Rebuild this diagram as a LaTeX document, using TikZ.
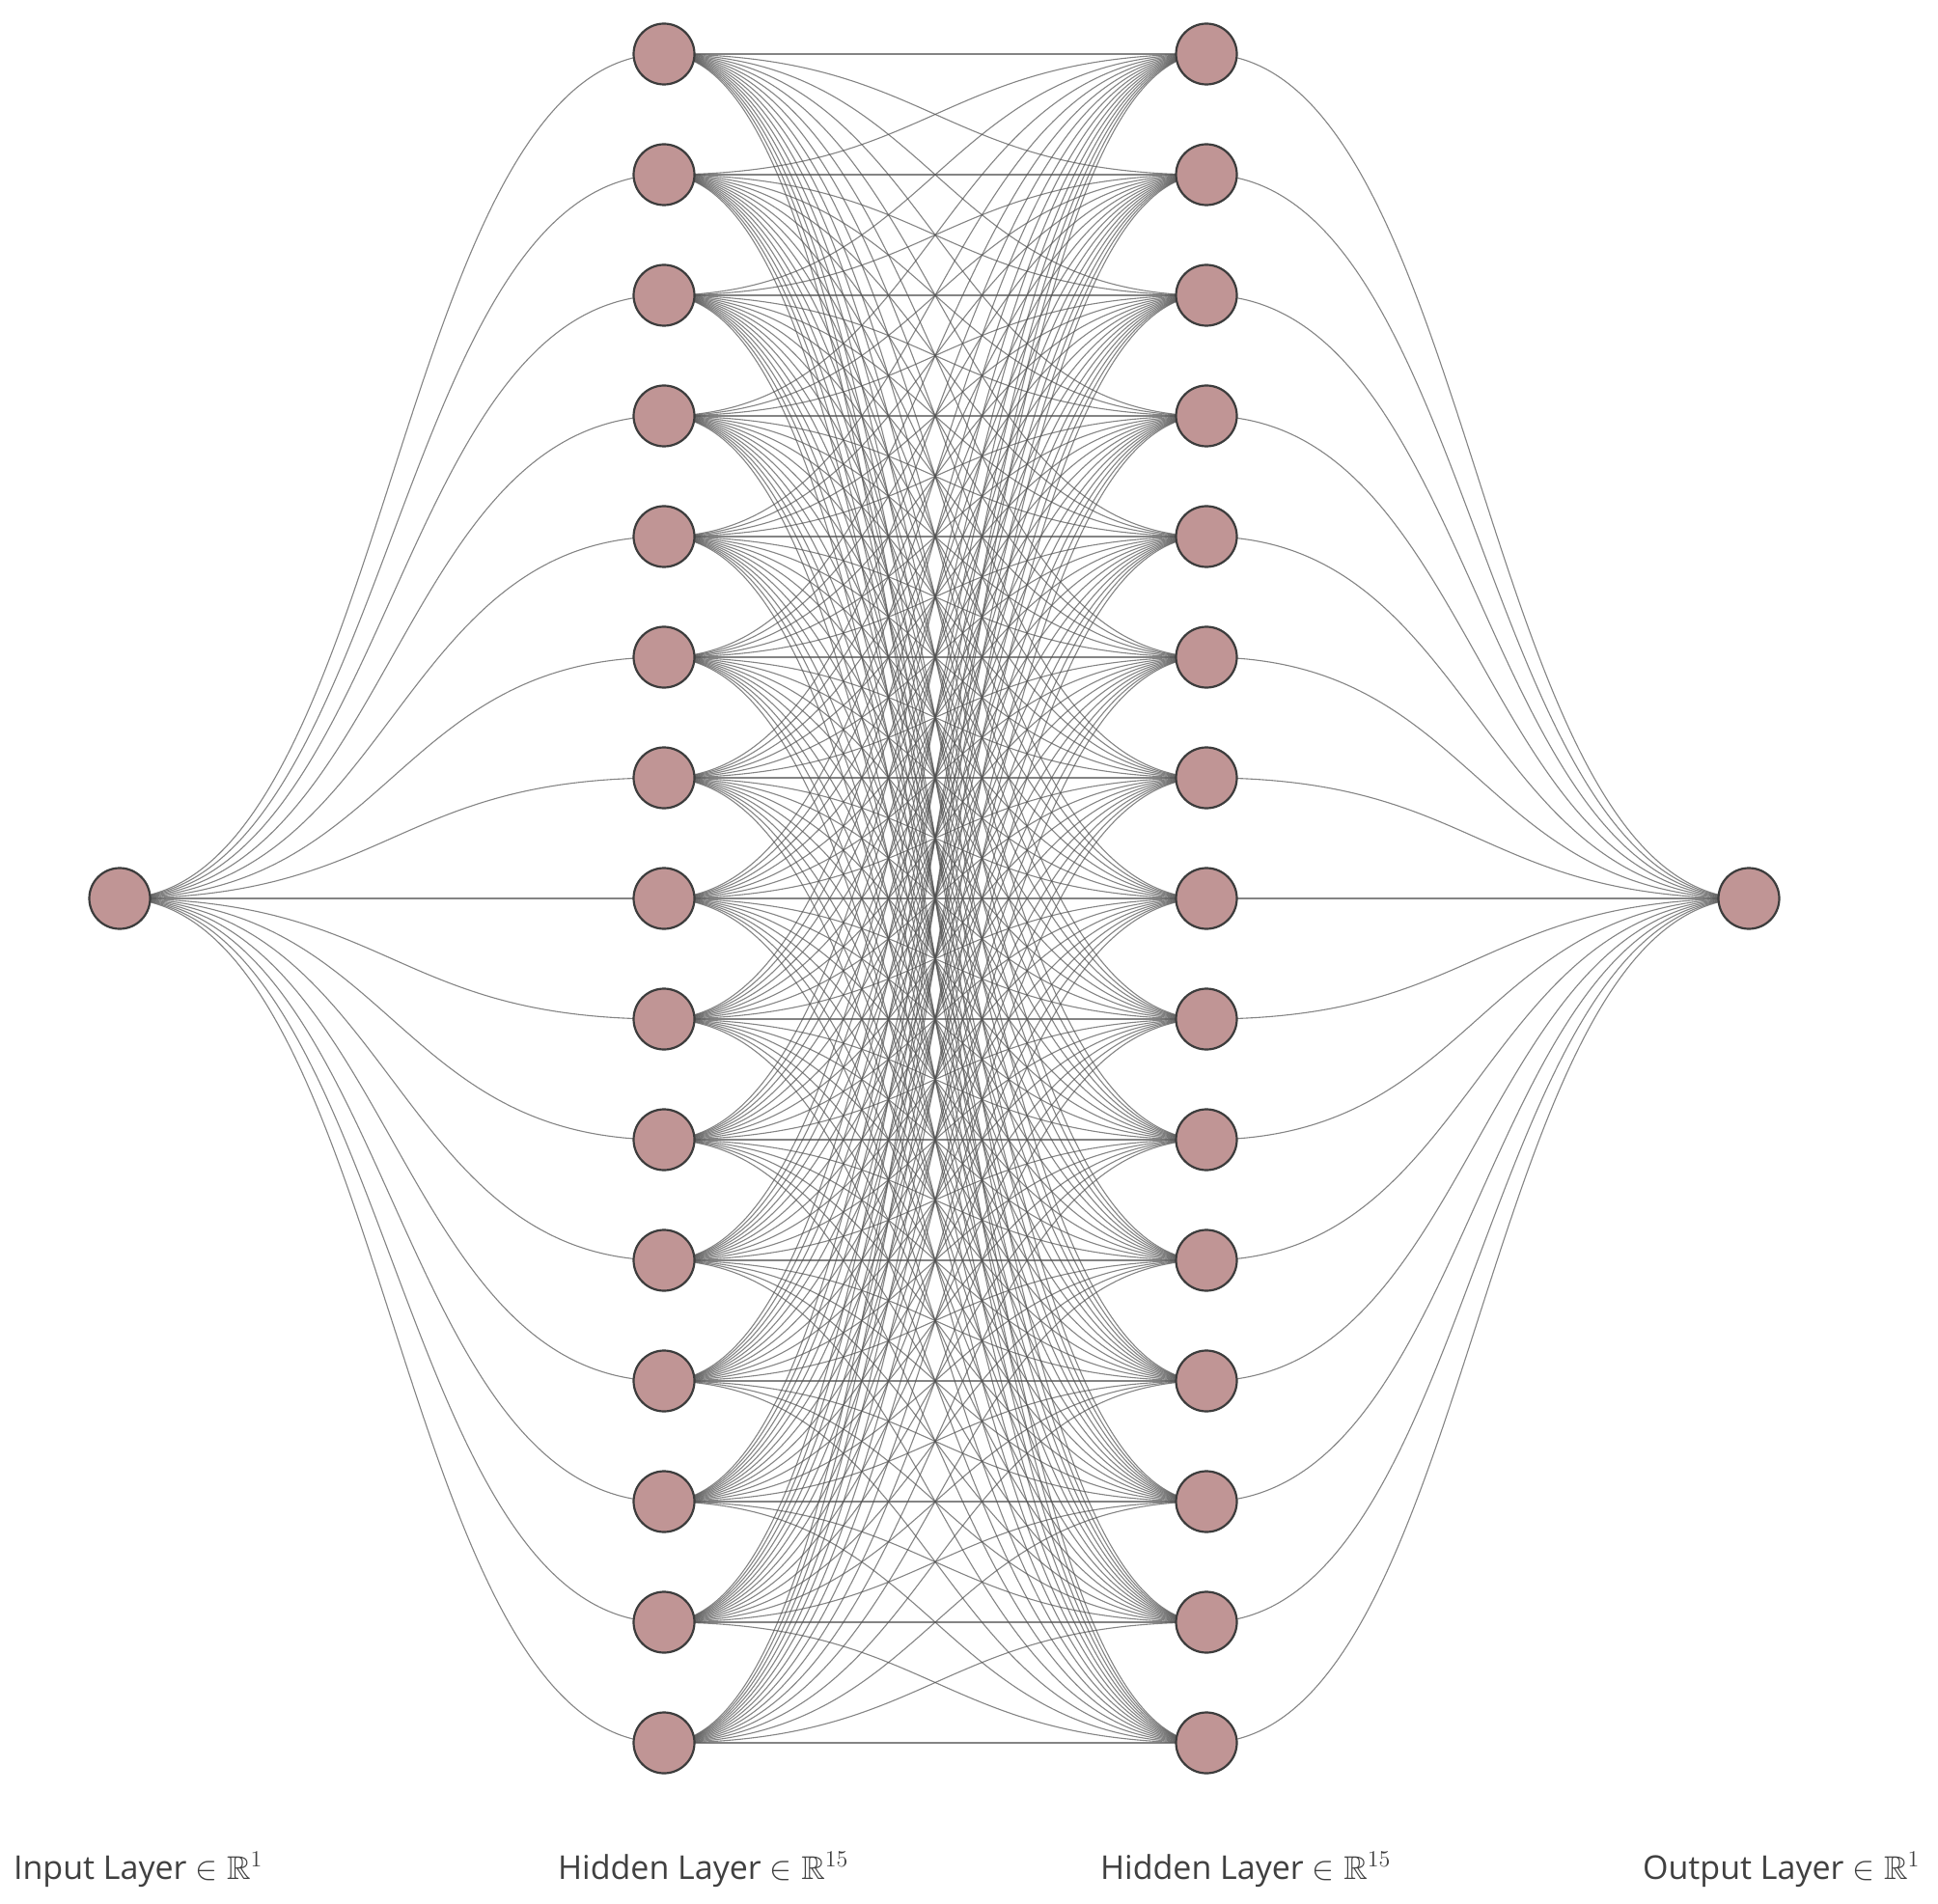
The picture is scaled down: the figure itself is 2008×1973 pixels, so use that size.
\documentclass[tikz,border=0pt]{standalone}
\usepackage{amssymb}
\usepackage{fontspec}
\setmainfont{Open Sans}
\usetikzlibrary{calc}
\definecolor{rosy}{RGB}{192, 149, 149}
\definecolor{wiregray}{RGB}{80, 80, 80}
\definecolor{rimgray}{RGB}{60, 60, 60}
\pgfdeclarelayer{wires}
\pgfsetlayers{wires,main}

\begin{document}
\begin{tikzpicture}[x=0.5pt,y=-0.5pt,
    neuron/.style={circle, draw=rimgray, fill=rosy, line width=1.1pt, minimum size=31.5pt, inner sep=0pt},
    synapse/.style={draw=wiregray, opacity=0.7, line width=0.55pt},
    layerlabel/.style={anchor=base west, font=\fontsize{17}{20}\selectfont, text=black!75}]
    \useasboundingbox (0,0) rectangle (2008,1973);
    % neurons
    \node[neuron] (in)  at ( 124, 931) {};
    \node[neuron] (out) at (1812, 931) {};
    \foreach \i in {1,...,15}{
        \node[neuron] (ha\i) at ( 688,{56+125*(\i-1)}) {};
        \node[neuron] (hb\i) at (1250,{56+125*(\i-1)}) {};
    }
    % connections
    \begin{pgfonlayer}{wires}
        \foreach \i in {1,...,15}{
            \draw[synapse] (in.center) .. controls ($(in.center)+(282,0)$) and ($(ha\i.center)-(282,0)$) .. (ha\i.center);
            \draw[synapse] (hb\i.center) .. controls ($(hb\i.center)+(281,0)$) and ($(out.center)-(281,0)$) .. (out.center);
            \foreach \j in {1,...,15}
                \draw[synapse] (ha\i.center) .. controls ($(ha\i.center)+(281,0)$) and ($(hb\j.center)-(281,0)$) .. (hb\j.center);
        }
    \end{pgfonlayer}
    % labels
    \node[layerlabel] (inlabel)  at (   7,1947) {Input Layer $\in \mathbb{R}^{1}$};
    \node[layerlabel] (halabel)  at ( 571,1947) {Hidden Layer $\in \mathbb{R}^{15}$};
    \node[layerlabel] (hblabel)  at (1133,1947) {Hidden Layer $\in \mathbb{R}^{15}$};
    \node[layerlabel] (outlabel) at (1695,1947) {Output Layer $\in \mathbb{R}^{1}$};
\end{tikzpicture}
\end{document}
